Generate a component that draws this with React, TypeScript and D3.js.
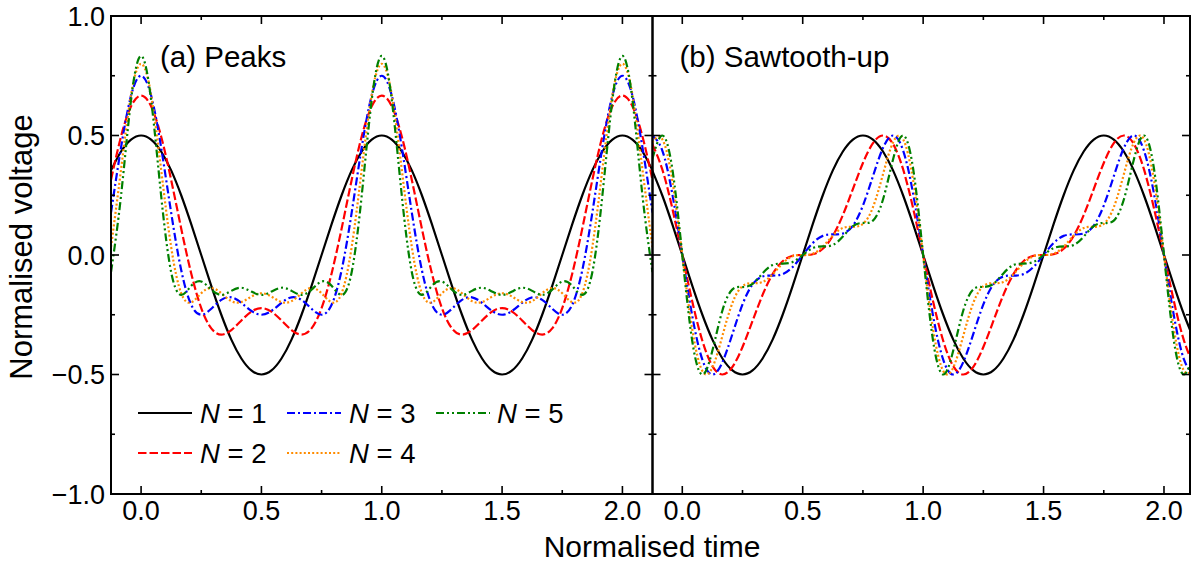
import React from "react";
import * as d3 from "d3";

// One period (t = 0 … 1, 24 equal steps) of each waveform
const peaksN1 = [0.5, 0.483, 0.433, 0.354, 0.25, 0.129, 0, -0.129, -0.25, -0.354, -0.433, -0.483, -0.5, -0.483, -0.433, -0.354, -0.25, -0.129, 0, 0.129, 0.25, 0.354, 0.433, 0.483, 0.5];
const peaksN2 = [0.667, 0.622, 0.496, 0.314, 0.111, -0.077, -0.222, -0.307, -0.333, -0.314, -0.274, -0.237, -0.222, -0.237, -0.274, -0.314, -0.333, -0.307, -0.222, -0.077, 0.111, 0.314, 0.496, 0.622, 0.667];
const peaksN3 = [0.75, 0.667, 0.45, 0.177, -0.063, -0.208, -0.25, -0.225, -0.188, -0.177, -0.2, -0.234, -0.25, -0.234, -0.2, -0.177, -0.188, -0.225, -0.25, -0.208, -0.063, 0.177, 0.45, 0.667, 0.75];
const peaksN4 = [0.8, 0.67, 0.357, 0.033, -0.16, -0.198, -0.16, -0.138, -0.16, -0.193, -0.197, -0.174, -0.16, -0.174, -0.197, -0.193, -0.16, -0.138, -0.16, -0.198, -0.16, 0.033, 0.357, 0.67, 0.8];
const peaksN5 = [0.833, 0.649, 0.248, -0.072, -0.167, -0.129, -0.111, -0.145, -0.167, -0.15, -0.137, -0.153, -0.167, -0.153, -0.137, -0.15, -0.167, -0.145, -0.111, -0.129, -0.167, -0.072, 0.248, 0.649, 0.833];

const sawN1 = [0, -0.129, -0.25, -0.354, -0.433, -0.483, -0.5, -0.483, -0.433, -0.354, -0.25, -0.129, 0, 0.129, 0.25, 0.354, 0.433, 0.483, 0.5, 0.483, 0.433, 0.354, 0.25, 0.129, 0];
const sawN2 = [0, -0.196, -0.359, -0.465, -0.5, -0.468, -0.385, -0.276, -0.167, -0.08, -0.026, -0.003, 0, 0.003, 0.026, 0.08, 0.167, 0.276, 0.385, 0.468, 0.5, 0.465, 0.359, 0.196, 0];
const sawN3 = [0, -0.257, -0.438, -0.5, -0.448, -0.33, -0.207, -0.123, -0.09, -0.086, -0.08, -0.05, 0, 0.05, 0.08, 0.086, 0.09, 0.123, 0.207, 0.33, 0.448, 0.5, 0.438, 0.257, 0];
const sawN4 = [0, -0.313, -0.485, -0.471, -0.338, -0.2, -0.13, -0.118, -0.113, -0.081, -0.035, -0.005, 0, 0.005, 0.035, 0.081, 0.113, 0.118, 0.13, 0.2, 0.338, 0.471, 0.485, 0.313, 0];
const sawN5 = [0, -0.362, -0.5, -0.4, -0.232, -0.144, -0.134, -0.121, -0.077, -0.042, -0.036, -0.029, 0, 0.029, 0.036, 0.042, 0.077, 0.121, 0.134, 0.144, 0.232, 0.4, 0.5, 0.362, 0];

const harmonicLabels = ["1", "2", "3", "4", "5"];
const panelTitles = ["(a) Peaks", "(b) Sawtooth-up"];
const xTicks = [0, 0.5, 1, 1.5, 2];
const xMinorTicks = [0.25, 0.75, 1.25, 1.75];
const yTicks = [-1, -0.5, 0, 0.5, 1];
const yMinorTicks = [-0.75, -0.25, 0.25, 0.75];
const xLabel = "Normalised time";
const yLabel = "Normalised voltage";

const colors = ["#000000", "#ff0000", "#0000ff", "#ff8c00", "#008000"];
const dashes = [null, "8.5,3", "8,3,2,3", "2,2.2", "8,3,2,3,2,3"];

const FONT = "'Liberation Sans', Arial, Helvetica, sans-serif";
const STEPS = 24;

const yScale = d3.scaleLinear().domain([-1, 1]).range([494, 16]);
const panels = [
  { x0: 111, x1: 652.5, domain: [-0.125, 2.125], series: [peaksN1, peaksN2, peaksN3, peaksN4, peaksN5] },
  { x0: 652.5, x1: 1190, domain: [-0.1237, 2.108], series: [sawN1, sawN2, sawN3, sawN4, sawN5] },
];

function expand(period: number[]) {
  const pts: [number, number][] = [];
  for (let j = -3; j <= 2 * STEPS + 3; j++) {
    const idx = ((j % STEPS) + STEPS) % STEPS;
    pts.push([j / STEPS, period[idx]]);
  }
  return pts;
}

const fmt = d3.format(".1f");

function Panel({ p, i }: { p: any; i: number }) {
  const x = d3.scaleLinear().domain(p.domain).range([p.x0, p.x1]);
  const line = d3
    .line<[number, number]>()
    .x((d) => x(d[0]))
    .y((d) => yScale(d[1]))
    .curve(d3.curveNatural);
  const clipId = `clip${i}`;
  const yT = yScale.range()[1];
  const yB = yScale.range()[0];
  const tickStroke = { stroke: "#000", strokeWidth: 1.6 };
  return (
    <g>
      <defs>
        <clipPath id={clipId}>
          <rect x={p.x0} y={yT} width={p.x1 - p.x0} height={yB - yT} />
        </clipPath>
      </defs>
      <g clipPath={`url(#${clipId})`}>
        {p.series.map((s: number[], k: number) => (
          <path
            key={k}
            d={line(expand(s)) || ""}
            fill="none"
            stroke={colors[k]}
            strokeWidth={2.2}
            strokeDasharray={dashes[k] || undefined}
          />
        ))}
      </g>
      {xTicks.map((t) => (
        <g key={"xt" + t}>
          <line x1={x(t)} x2={x(t)} y1={yB} y2={yB - 8} {...tickStroke} />
          <line x1={x(t)} x2={x(t)} y1={yT} y2={yT + 8} {...tickStroke} />
          <text x={x(t)} y={520} textAnchor="middle" fontSize={27} fontFamily={FONT}>
            {fmt(t)}
          </text>
        </g>
      ))}
      {xMinorTicks.map((t) => (
        <g key={"xm" + t}>
          <line x1={x(t)} x2={x(t)} y1={yB} y2={yB - 4} {...tickStroke} />
          <line x1={x(t)} x2={x(t)} y1={yT} y2={yT + 4} {...tickStroke} />
        </g>
      ))}
      {yTicks.map((t) => (
        <g key={"yt" + t}>
          <line x1={p.x0} x2={p.x0 + 8} y1={yScale(t)} y2={yScale(t)} {...tickStroke} />
          <line x1={p.x1} x2={p.x1 - 8} y1={yScale(t)} y2={yScale(t)} {...tickStroke} />
        </g>
      ))}
      {yMinorTicks.map((t) => (
        <g key={"ym" + t}>
          <line x1={p.x0} x2={p.x0 + 4} y1={yScale(t)} y2={yScale(t)} {...tickStroke} />
          <line x1={p.x1} x2={p.x1 - 4} y1={yScale(t)} y2={yScale(t)} {...tickStroke} />
        </g>
      ))}
      <rect x={p.x0} y={yT} width={p.x1 - p.x0} height={yB - yT} fill="none" stroke="#000" strokeWidth={2} />
      <text x={p.x0 + (i === 0 ? 49 : 27)} y={67} fontSize={29.5} fontFamily={FONT}>
        {panelTitles[i]}
      </text>
    </g>
  );
}

export default function App() {
  const legendCols = [
    { lx: 138, tx: 200 },
    { lx: 287, tx: 349 },
    { lx: 436, tx: 497 },
  ];
  const legendRows = [413, 453];
  return (
    <svg
      width={1194}
      height={572}
      viewBox="0 0 1194 572"
      style={{ position: "absolute", left: 0, top: 0, background: "#fff" }}
    >
      <rect x={0} y={0} width={1194} height={572} fill="#fff" />
      {panels.map((p, i) => (
        <Panel key={i} p={p} i={i} />
      ))}
      {yTicks.map((t) => (
        <text key={"yl" + t} x={105} y={yScale(t) + 9.5} textAnchor="end" fontSize={27} fontFamily={FONT}>
          {fmt(t)}
        </text>
      ))}
      <text x={652} y={557} textAnchor="middle" fontSize={30} fontFamily={FONT}>
        {xLabel}
      </text>
      <text transform="translate(32,247) rotate(-90)" textAnchor="middle" fontSize={31} fontFamily={FONT}>
        {yLabel}
      </text>
      {harmonicLabels.map((lab, k) => {
        const col = legendCols[Math.floor(k / 2)];
        const ry = legendRows[k % 2];
        return (
          <g key={"lg" + k}>
            <line
              x1={col.lx}
              x2={col.lx + 54}
              y1={ry}
              y2={ry}
              stroke={colors[k]}
              strokeWidth={2.2}
              strokeDasharray={dashes[k] || undefined}
            />
            <text x={col.tx} y={ry + 10} fontSize={27.5} fontFamily={FONT}>
              <tspan fontStyle="italic">N</tspan>
              {" = " + lab}
            </text>
          </g>
        );
      })}
    </svg>
  );
}
